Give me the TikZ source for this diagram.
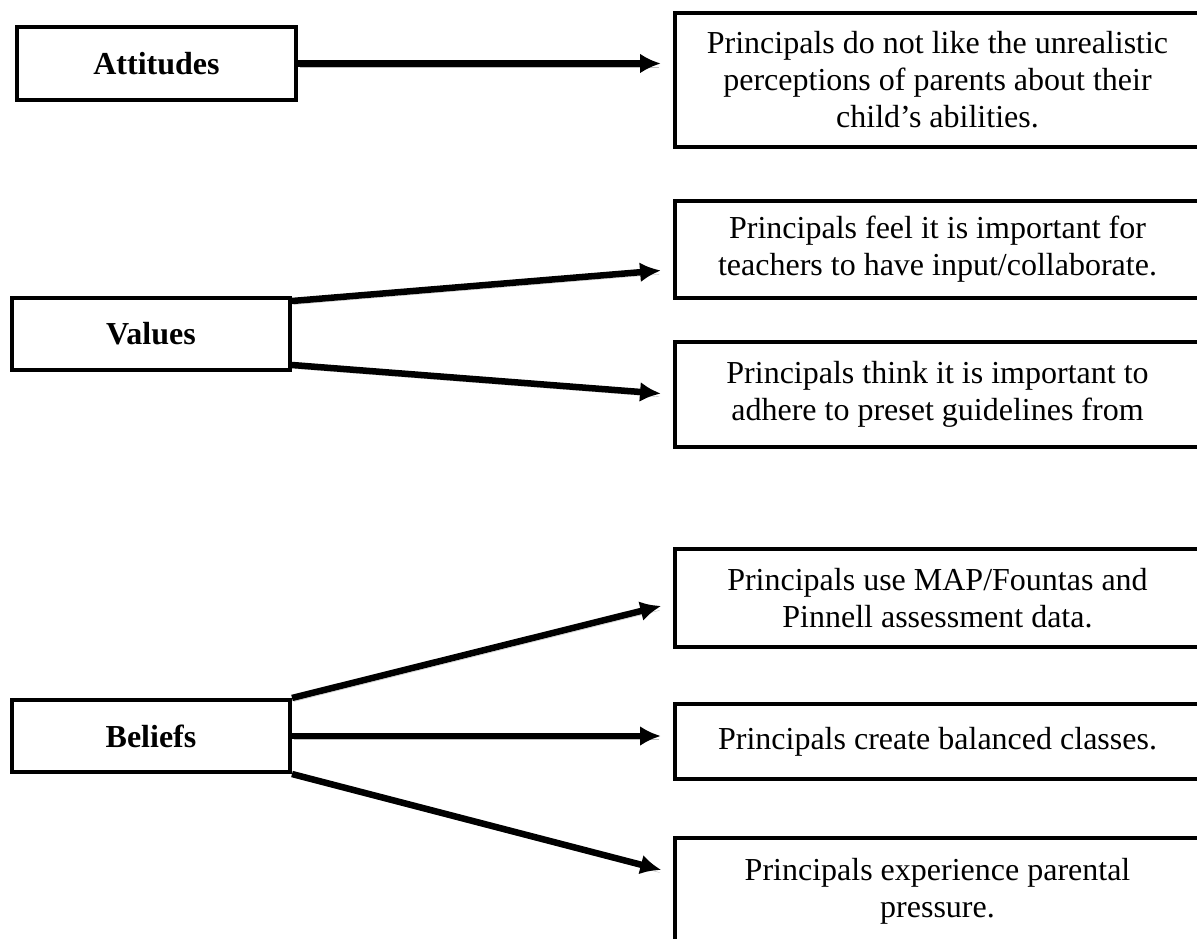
\documentclass[tikz,border=0pt]{standalone}
\usepackage{fontspec}
\setmainfont{Liberation Serif}
\usetikzlibrary{arrows.meta}

\tikzset{
  headbox/.style={draw, line width=4pt, minimum width=278pt, minimum height=72pt,
    font=\fontsize{32}{37}\selectfont\bfseries},
  itembox/.style={draw, line width=4pt, minimum width=525pt, align=center,
    font=\fontsize{32}{37}\selectfont},
  link/.style={line width=6.5pt, -{Latex[length=21pt,width=20pt]}, shorten >=12pt,
    preaction={draw=black!25, -, shorten >=16pt, transform canvas={shift={(2pt,-3.5pt)}}}}
}

\begin{document}
\begin{tikzpicture}[x=1pt,y=-1pt]
  \useasboundingbox (0,0) rectangle (1197,939);
  \clip (0,0) rectangle (1197,939);

  % left column
  \node[headbox, minimum width=279pt, minimum height=73pt] (att) at (156.5,63.5) {Attitudes};
  \node[headbox] (val) at (151,334) {Values};
  \node[headbox] (bel) at (151,736) {Beliefs};

  % right column
  \node[itembox, minimum height=134pt] (r1) at (937.5,80)
    {Principals do not like the unrealistic\\perceptions of parents about their\\child's abilities.};
  \node[itembox, minimum height=97pt] (r2) at (937.5,249.5)
    {Principals feel it is important for\\teachers to have input/collaborate.};
  \node[itembox, minimum height=105pt] (r3) at (937.5,394.5)
    {Principals think it is important to\\adhere to preset guidelines from};
  \node[itembox, minimum height=98pt] (r4) at (937.5,598)
    {Principals use MAP/Fountas and\\Pinnell assessment data.};
  \node[itembox, minimum height=75pt] (r5) at (937.5,741.5)
    {Principals create balanced classes.};
  \node[itembox, minimum height=106pt] (r6) at (937.5,891)
    {Principals experience parental\\pressure.};

  % connectors
  \draw[link] (att.east) -- (att.east -| r1.west);
  \draw[link] ([yshift=-5pt]val.north east) -- ([yshift=-20pt]r2.west);
  \draw[link] ([yshift=7pt]val.south east) -- (r3.west);
  \draw[link] (bel.north east) -- ([yshift=-5pt]r4.west);
  \draw[link] (bel.east) -- (bel.east -| r5.west);
  \draw[link] (bel.south east) -- ([yshift=18pt]r6.west);
\end{tikzpicture}
\end{document}
